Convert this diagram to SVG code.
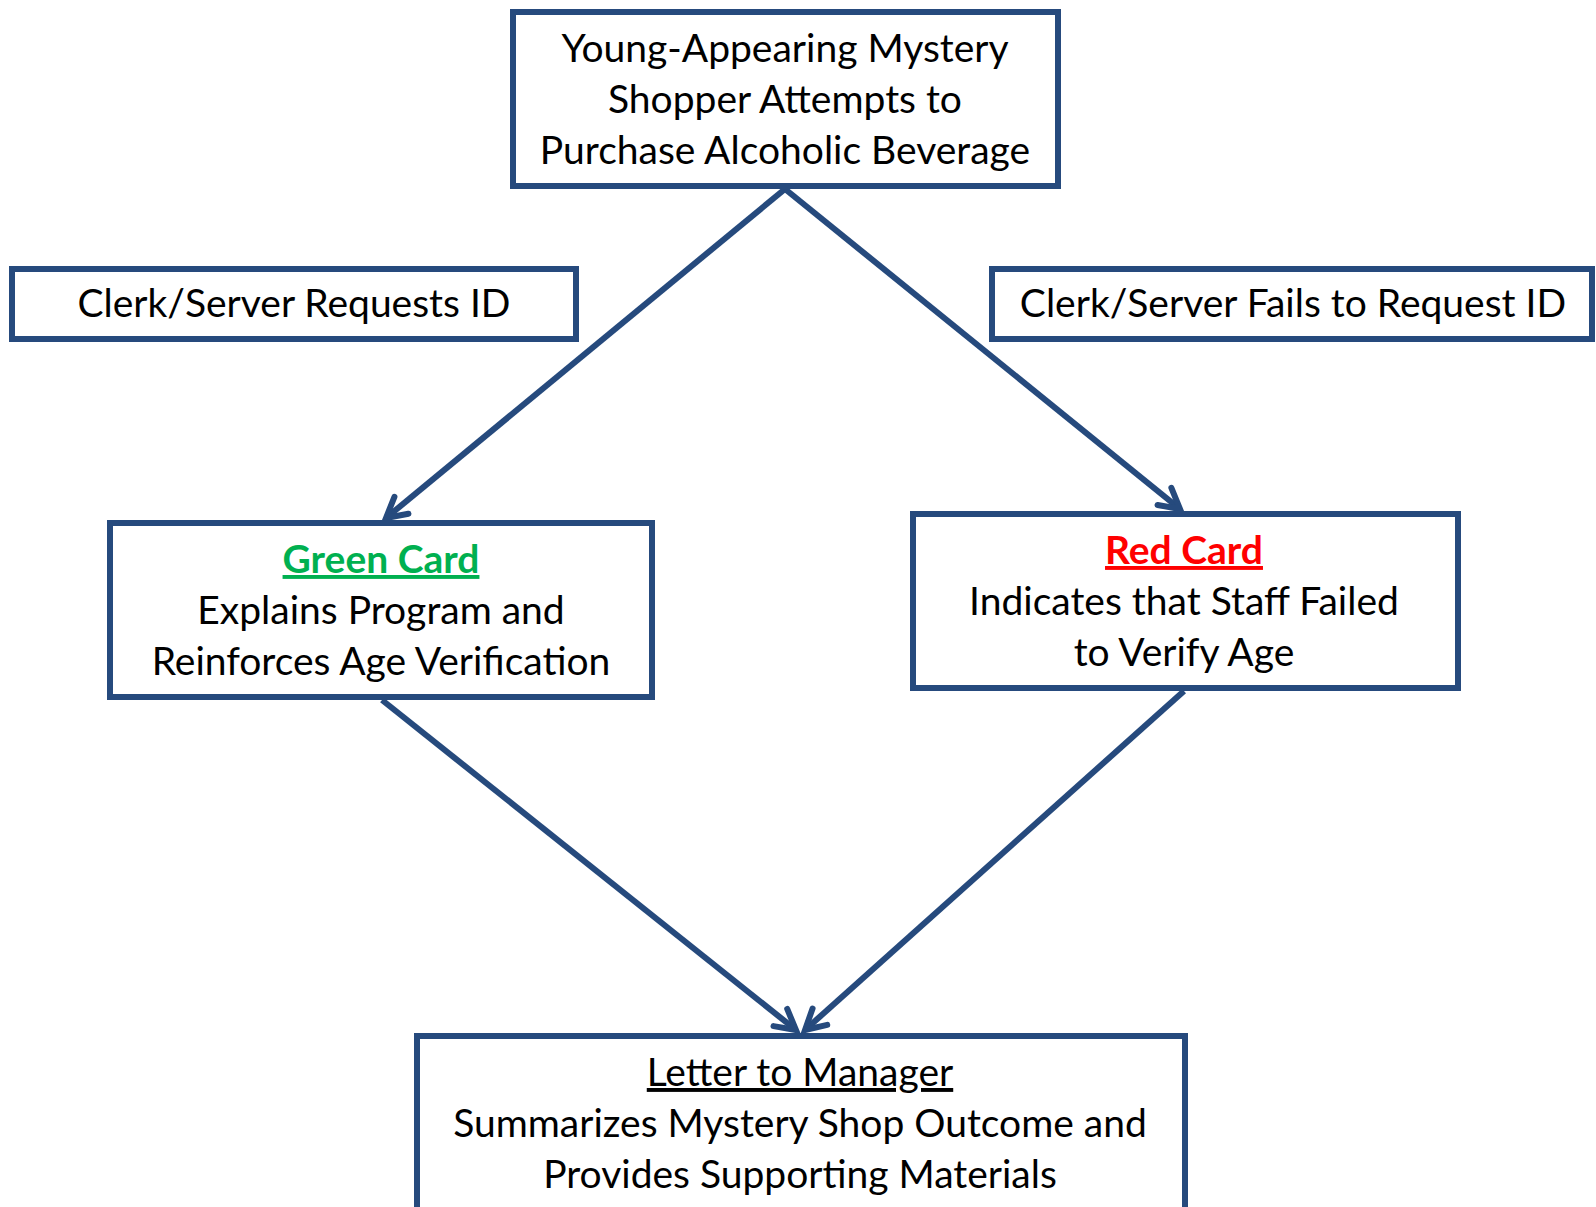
<svg xmlns="http://www.w3.org/2000/svg" width="1596" height="1207" viewBox="0 0 1596 1207">
<defs>
<style>
.box{fill:#ffffff;stroke:#264a7d;stroke-width:6}
.t{font-family:Lato,"Liberation Sans",sans-serif;font-size:39px;fill:#000000;text-anchor:middle}
.edge{stroke:#264a7d;stroke-width:6;fill:none;marker-end:url(#arr)}
.g{fill:#00b050;font-weight:bold;text-decoration:underline}
.r{fill:#ff0000;font-weight:bold;text-decoration:underline}
.u{text-decoration:underline}
</style>
<marker id="arr" markerUnits="userSpaceOnUse" markerWidth="40" markerHeight="40" refX="0" refY="0" viewBox="-30 -20 40 40" orient="auto" overflow="visible">
<path d="M -20 -11 L 0 0 L -20 11" fill="none" stroke="#264a7d" stroke-width="6" stroke-linecap="round" stroke-linejoin="miter"/>
</marker>
</defs>
<rect width="1596" height="1207" fill="#ffffff"/>
<g id="connectors">
<line class="edge" x1="785" y1="189" x2="386" y2="518"/>
<line class="edge" x1="785" y1="189" x2="1180" y2="509"/>
<line class="edge" x1="382" y1="700" x2="796" y2="1030"/>
<line class="edge" x1="1184" y1="691" x2="805" y2="1030"/>
</g>
<g id="start">
<rect class="box" x="513" y="12" width="545" height="174"/>
<text class="t" x="785" y="62">Young-Appearing Mystery</text>
<text class="t" x="785" y="113">Shopper Attempts to</text>
<text class="t" x="785" y="164">Purchase Alcoholic Beverage</text>
</g>
<g id="requests">
<rect class="box" x="12" y="269" width="564" height="70"/>
<text class="t" x="294" y="317">Clerk/Server Requests ID</text>
</g>
<g id="fails">
<rect class="box" x="992" y="269" width="600" height="70"/>
<text class="t" x="1293" y="317">Clerk/Server Fails to Request ID</text>
</g>
<g id="green">
<rect class="box" x="110" y="523" width="542" height="174"/>
<text class="t g" x="381" y="573">Green Card</text>
<text class="t" x="381" y="624">Explains Program and</text>
<text class="t" x="381" y="675">Reinforces Age Verification</text>
</g>
<g id="red">
<rect class="box" x="913" y="514" width="545" height="174"/>
<text class="t r" x="1184" y="564">Red Card</text>
<text class="t" x="1184" y="615">Indicates that Staff Failed</text>
<text class="t" x="1184" y="666">to Verify Age</text>
</g>
<g id="letter">
<rect class="box" x="417" y="1036" width="768" height="190"/>
<text class="t u" x="800" y="1086">Letter to Manager</text>
<text class="t" x="800" y="1137">Summarizes Mystery Shop Outcome and</text>
<text class="t" x="800" y="1188">Provides Supporting Materials</text>
</g>
</svg>
